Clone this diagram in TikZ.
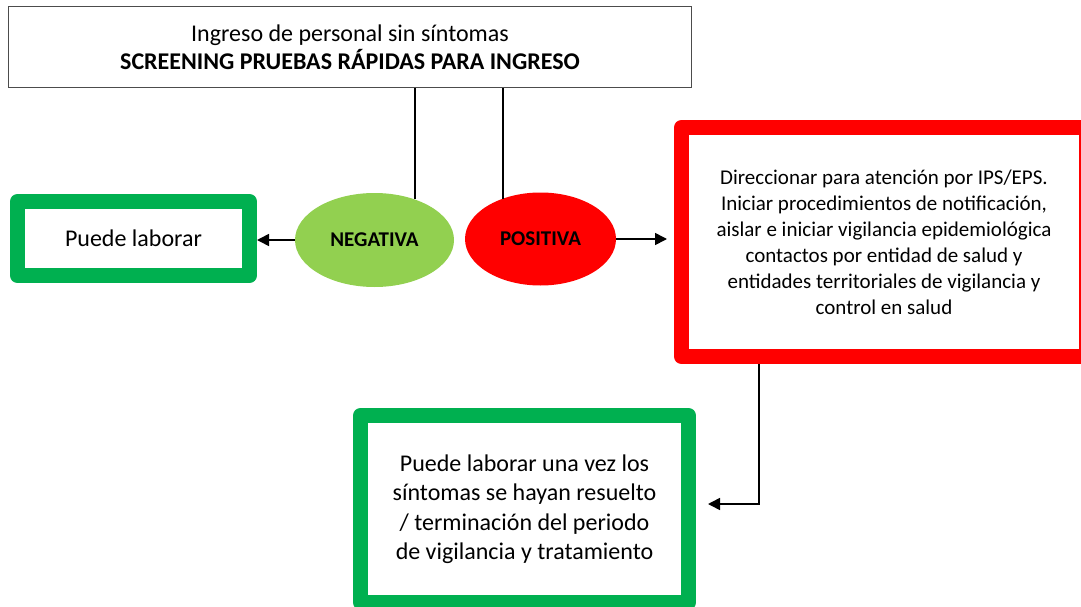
\documentclass[tikz,border=0pt]{standalone}
\usepackage{fontspec}
\setmainfont{Carlito}
\usetikzlibrary{calc, positioning, shapes, arrows.meta}
\definecolor{okgreen}{HTML}{00B050}
\definecolor{lightgreen}{HTML}{92D050}
\definecolor{alertred}{HTML}{FF0000}

\begin{document}
\begin{tikzpicture}[x=1pt, y=-1pt,
        thickbox/.style={draw, rectangle, line width=15pt, line join=round, fill=white, align=center},
        result/.style={ellipse, font=\fontsize{21}{25}\selectfont\bfseries, text=black},
        conn/.style={line width=1.6pt},
        >={Triangle[length=12pt, width=12pt]}]

        \useasboundingbox (0,0) rectangle (1081,607);

        \node[draw=black!70, line width=1.5pt, rectangle, minimum width=683pt, minimum height=81pt, align=center, font=\fontsize{24}{28}\selectfont] (S) at (350,47) {Ingreso de personal sin síntomas\\\textbf{SCREENING PRUEBAS RÁPIDAS PARA INGRESO}};

        \node[result, fill=lightgreen, minimum width=159pt, minimum height=94pt] (N) at (374.5,240) {NEGATIVA};
        \node[result, fill=alertred, minimum width=151pt, minimum height=93pt] (P) at (540.5,239) {POSITIVA};

        \node[thickbox, draw=okgreen, minimum width=232pt, minimum height=74pt, font=\fontsize{24}{28}\selectfont] (L) at (133.5,238.5) {Puede laborar};

        \node[thickbox, draw=alertred, minimum width=405pt, minimum height=229pt, font=\fontsize{21}{26}\selectfont] (R) at (884,242) {Direccionar para atención por IPS/EPS.\\Iniciar procedimientos de notificación,\\aislar e iniciar vigilancia epidemiológica\\contactos por entidad de salud y\\entidades territoriales de vigilancia y\\control en salud};

        \node[thickbox, draw=okgreen, minimum width=328pt, minimum height=187pt, font=\fontsize{24}{29.5}\selectfont] (D) at (524.5,509) {Puede laborar una vez los\\síntomas se hayan resuelto\\/ terminación del periodo\\de vigilancia y tratamiento};

        \coordinate (T) at (759,504);

        \draw[conn] (S.south -| N.45) -- (N.45);
        \draw[conn] (S.south -| P.133) -- (P.133);
        \draw[conn, ->] (N.west) -- (N.west -| L.east);
        \draw[conn, ->, shorten >=7pt] (P.east) -- (P.east -| R.west);
        \draw[conn, ->, shorten >=12pt] (R.south -| T) -- (T) -- (D.east |- T);

    \end{tikzpicture}
\end{document}
